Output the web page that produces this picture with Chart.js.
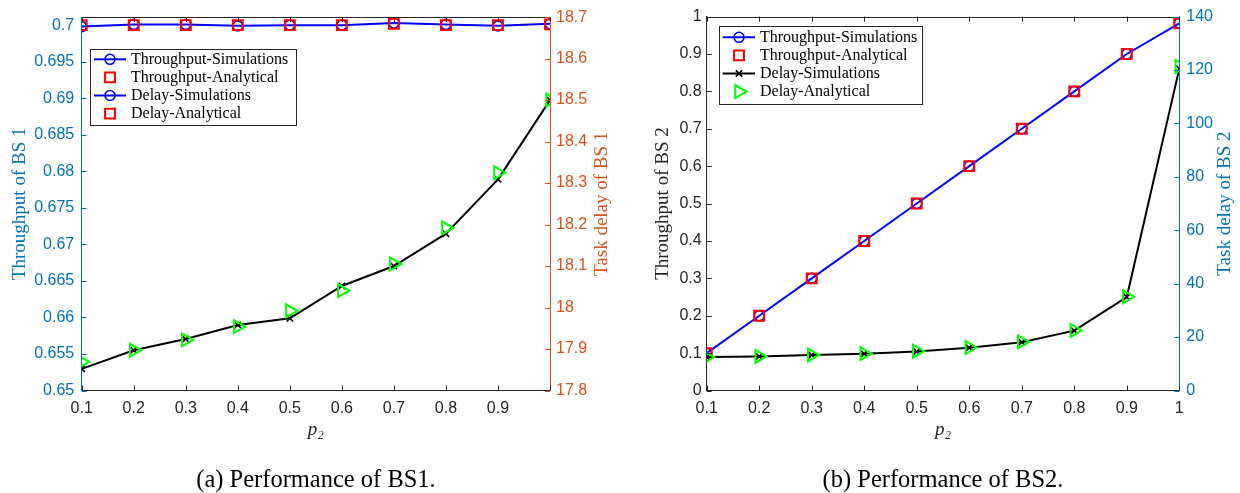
<!DOCTYPE html>
<html><head><meta charset="utf-8">
<script src="https://cdn.jsdelivr.net/npm/chart.js@4.4.1/dist/chart.umd.min.js"></script>
<style>
html,body{margin:0;padding:0;background:#fff;overflow:hidden;width:1240px;height:493px;}
canvas{position:absolute;top:0;}
#c1{left:0;} #c2{left:646px;}
</style></head><body>
<canvas id="c1" width="632" height="493"></canvas>
<canvas id="c2" width="594" height="493"></canvas>
<script>
// ---------- data ----------
const p2 = [0.1, 0.2, 0.3, 0.4, 0.5, 0.6, 0.7, 0.8, 0.9, 1.0];
const xTicks = [0.1, 0.2, 0.3, 0.4, 0.5, 0.6, 0.7, 0.8, 0.9, 1.0];
const xLabels1 = ['0.1','0.2','0.3','0.4','0.5','0.6','0.7','0.8','0.9',''];
const xLabels2 = ['0.1','0.2','0.3','0.4','0.5','0.6','0.7','0.8','0.9','1'];

// (a) BS1
const thrSim1   = [0.6998, 0.7001, 0.7001, 0.6999, 0.7000, 0.7000, 0.7003, 0.7001, 0.6999, 0.7002];
const thrAna1   = [0.7000, 0.7000, 0.7000, 0.7000, 0.7000, 0.7000, 0.7002, 0.7000, 0.7000, 0.7001];
const delaySim1 = [17.852, 17.897, 17.924, 17.958, 17.974, 18.052, 18.100, 18.178, 18.309, 18.500];
const delayAna1 = [17.869, 17.897, 17.922, 17.954, 17.992, 18.041, 18.105, 18.192, 18.325, 18.500];
const yTicks1L  = [0.65, 0.655, 0.66, 0.665, 0.67, 0.675, 0.68, 0.685, 0.69, 0.695, 0.7];
const yLabels1L = ['0.65','0.655','0.66','0.665','0.67','0.675','0.68','0.685','0.69','0.695','0.7'];
const yTicks1R  = [17.8, 17.9, 18.0, 18.1, 18.2, 18.3, 18.4, 18.5, 18.6, 18.7];
const yLabels1R = ['17.8','17.9','18','18.1','18.2','18.3','18.4','18.5','18.6','18.7'];

// (b) BS2
const thrSim2   = [0.1, 0.2, 0.3, 0.4, 0.5, 0.6, 0.7, 0.8, 0.9, 0.982];
const thrAna2   = [0.1, 0.2, 0.3, 0.4, 0.5, 0.6, 0.7, 0.8, 0.9, 0.982];
const delaySim2 = [12.5, 12.75, 13.25, 13.75, 14.6, 16.0, 18.1, 22.4, 35.0, 120.5];
const delayAna2 = [12.5, 12.75, 13.3, 13.8, 14.7, 16.1, 18.2, 22.5, 35.1, 121.3];
const yTicks2L  = [0, 0.1, 0.2, 0.3, 0.4, 0.5, 0.6, 0.7, 0.8, 0.9, 1];
const yLabels2L = ['0','0.1','0.2','0.3','0.4','0.5','0.6','0.7','0.8','0.9','1'];
const yTicks2R  = [0, 20, 40, 60, 80, 100, 120, 140];
const yLabels2R = ['0','20','40','60','80','100','120','140'];

const legendNames = ['Throughput-Simulations','Throughput-Analytical','Delay-Simulations','Delay-Analytical'];
const xTitle = 'p\u2082';
const captions = ['(a) Performance of BS1.', '(b) Performance of BS2.'];

// ---------- styling ----------
const BLUE_AX = '#0072BD', ORANGE_AX = '#D95319', DARK = '#262626';
const SERIF = "'Liberation Serif', 'Times New Roman', serif";
const SANS = "'Liberation Sans', Arial, Helvetica, sans-serif";
const TICK_SIZE = 16;

function pts(arr){ return p2.map((x, i) => ({x: x, y: arr[i]})); }

function makeDatasets(ts, ta, ds, da){
  return [
    {label: legendNames[0], data: pts(ts), yAxisID: 'y', borderColor: '#0000FF', borderWidth: 2,
     pointStyle: 'circle', pointRadius: 5, pointBorderWidth: 1.6, pointBorderColor: '#0000FF',
     pointBackgroundColor: 'rgba(0,0,0,0)', order: 4, tension: 0},
    {label: legendNames[1], data: pts(ta), yAxisID: 'y', showLine: false, borderColor: '#FF0000',
     pointStyle: 'rect', pointRadius: 7, pointBorderWidth: 2, pointBorderColor: '#FF0000',
     pointBackgroundColor: 'rgba(0,0,0,0)', order: 3},
    {label: legendNames[2], data: pts(ds), yAxisID: 'y1', borderColor: '#000000', borderWidth: 2,
     pointStyle: 'crossRot', pointRadius: 4.5, pointBorderWidth: 1.6, pointBorderColor: '#000000',
     pointBackgroundColor: 'rgba(0,0,0,0)', order: 2, tension: 0},
    {label: legendNames[3], data: pts(da), yAxisID: 'y1', showLine: false, borderColor: '#00FF00',
     pointStyle: 'triangle', pointRotation: 90, pointRadius: 7.5, pointBorderWidth: 2, pointBorderColor: '#00FF00',
     pointBackgroundColor: 'rgba(0,0,0,0)', order: 1}
  ];
}

// inner ticks + top frame + right axis title (reads upward like MATLAB)
const framePlugin = {
  id: 'frameTicks',
  afterDraw(chart, args, o){
    const ctx = chart.ctx, a = chart.chartArea, s = chart.scales, L = o.tickLen;
    const al = v => Math.round(v) + 0.5;
    ctx.save();
    ctx.lineWidth = 1;
    ctx.strokeStyle = o.frameColor;
    ctx.beginPath(); ctx.moveTo(a.left, al(a.top)); ctx.lineTo(a.right, al(a.top)); ctx.stroke();
    ctx.strokeStyle = s.x.options.border.color;
    ctx.beginPath();
    s.x.ticks.forEach(t => {
      const px = al(s.x.getPixelForValue(t.value));
      ctx.moveTo(px, a.bottom); ctx.lineTo(px, a.bottom - L);
    });
    ctx.stroke();
    ctx.strokeStyle = o.frameColor;
    ctx.beginPath();
    s.x.ticks.forEach(t => {
      const px = al(s.x.getPixelForValue(t.value));
      ctx.moveTo(px, a.top); ctx.lineTo(px, a.top + L);
    });
    ctx.stroke();
    ctx.strokeStyle = s.y.options.border.color;
    ctx.beginPath();
    s.y.ticks.forEach(t => {
      const py = al(s.y.getPixelForValue(t.value));
      ctx.moveTo(a.left, py); ctx.lineTo(a.left + L, py);
    });
    ctx.stroke();
    ctx.strokeStyle = s.y1.options.border.color;
    ctx.beginPath();
    s.y1.ticks.forEach(t => {
      const py = al(s.y1.getPixelForValue(t.value));
      ctx.moveTo(a.right, py); ctx.lineTo(a.right - L, py);
    });
    ctx.stroke();
    // right axis title
    const tt = s.y1.options.title;
    ctx.translate(o.rightTitleX, (a.top + a.bottom) / 2);
    ctx.rotate(-Math.PI / 2);
    ctx.fillStyle = tt.color;
    ctx.font = tt.font.size + 'px ' + SERIF;
    ctx.textAlign = 'center'; ctx.textBaseline = 'middle';
    ctx.fillText(tt.text, 0, 0);
    ctx.restore();
  }
};

function drawMarker(ctx, style, r, rot, x, y){
  if (Chart.helpers && Chart.helpers.drawPoint) {
    Chart.helpers.drawPoint(ctx, {pointStyle: style, radius: r, rotation: rot, borderWidth: ctx.lineWidth}, x, y);
    return;
  }
  ctx.beginPath();
  if (style === 'circle') ctx.arc(x, y, r, 0, Math.PI * 2);
  else if (style === 'rect') { const h = r * Math.SQRT1_2; ctx.rect(x - h, y - h, 2 * h, 2 * h); }
  else if (style === 'triangle') {
    let rad = rot * Math.PI / 180;
    ctx.moveTo(x + Math.sin(rad) * r, y - Math.cos(rad) * r);
    rad += 2 * Math.PI / 3; ctx.lineTo(x + Math.sin(rad) * r, y - Math.cos(rad) * r);
    rad += 2 * Math.PI / 3; ctx.lineTo(x + Math.sin(rad) * r, y - Math.cos(rad) * r);
    ctx.closePath();
  } else if (style === 'crossRot') {
    const d = r * Math.SQRT1_2;
    ctx.moveTo(x - d, y - d); ctx.lineTo(x + d, y + d);
    ctx.moveTo(x - d, y + d); ctx.lineTo(x + d, y - d);
  }
  ctx.stroke();
}

const legendPlugin = {
  id: 'boxLegend',
  afterDraw(chart, args, o){
    const ctx = chart.ctx, dss = chart.data.datasets;
    ctx.save();
    ctx.fillStyle = '#ffffff';
    ctx.fillRect(o.x, o.y, o.w, o.h);
    ctx.strokeStyle = DARK; ctx.lineWidth = 1;
    ctx.strokeRect(Math.round(o.x) + 0.5, Math.round(o.y) + 0.5, Math.round(o.w), Math.round(o.h));
    dss.forEach((ds, i) => {
      const st = dss[o.styleFrom[i]];
      const y = o.rowY0 + i * o.rowH;
      if (st.showLine !== false) {
        ctx.strokeStyle = st.borderColor; ctx.lineWidth = st.borderWidth;
        ctx.beginPath(); ctx.moveTo(o.lineX0, y); ctx.lineTo(o.lineX1, y); ctx.stroke();
      }
      ctx.strokeStyle = st.pointBorderColor; ctx.fillStyle = 'rgba(0,0,0,0)';
      ctx.lineWidth = st.pointBorderWidth;
      drawMarker(ctx, st.pointStyle, st.pointRadius, st.pointRotation || 0, o.markerX, y);
      ctx.fillStyle = '#000000';
      ctx.font = o.fontSize + 'px ' + SERIF;
      ctx.textAlign = 'left'; ctx.textBaseline = 'middle';
      ctx.fillText(ds.label, o.textX, y);
    });
    ctx.restore();
  }
};

function fixedTicks(vals){ return scale => { scale.ticks = vals.map(v => ({value: v})); }; }

function makeChart(id, cfg){
  return new Chart(document.getElementById(id), {
    type: 'line',
    data: {datasets: makeDatasets(cfg.ts, cfg.ta, cfg.ds, cfg.da)},
    plugins: [framePlugin, legendPlugin],
    options: {
      responsive: false, animation: false, events: [],
      layout: {padding: {top: 16, left: 0, right: 0, bottom: 0}},
      plugins: {
        legend: {display: false}, tooltip: {enabled: false},
        title: {display: true, position: 'bottom', text: cfg.caption, color: '#000000',
                font: {family: SERIF, size: 24.5, weight: 'normal', lineHeight: 1},
                padding: {top: 18, bottom: 0}},
        frameTicks: {tickLen: 5, frameColor: DARK, rightTitleX: cfg.rightTitleX},
        boxLegend: cfg.legend
      },
      scales: {
        x: {type: 'linear', position: 'bottom', min: 0.1, max: 1.0,
            afterBuildTicks: fixedTicks(xTicks),
            afterFit: s => { s.height = 60; },
            grid: {display: false, drawTicks: false},
            border: {display: true, color: DARK, width: 1},
            ticks: {color: DARK, padding: 8, maxRotation: 0, autoSkip: false,
                    font: {family: SANS, size: TICK_SIZE},
                    callback: (v, i) => cfg.xLabels[i]},
            title: {display: true, text: xTitle, color: DARK,
                    font: {family: SERIF, size: 19, style: 'italic', lineHeight: 1.2},
                    padding: {top: 0, bottom: 9}}},
        y: {type: 'linear', position: 'left', min: cfg.yMin, max: cfg.yMax,
            afterBuildTicks: fixedTicks(cfg.yTicksL),
            afterFit: s => { s.width = cfg.leftW; },
            grid: {display: false, drawTicks: false},
            border: {display: true, color: cfg.leftColor, width: 1},
            ticks: {color: cfg.leftColor, padding: cfg.leftPad, autoSkip: false,
                    font: {family: SANS, size: TICK_SIZE},
                    callback: (v, i) => cfg.yLabelsL[i]},
            title: {display: true, text: cfg.leftTitle, color: cfg.leftColor,
                    font: {family: SERIF, size: 19, lineHeight: 1.2},
                    padding: {top: cfg.leftTitlePad, bottom: 0}}},
        y1: {type: 'linear', position: 'right', min: cfg.y1Min, max: cfg.y1Max,
             afterBuildTicks: fixedTicks(cfg.yTicksR),
             afterFit: s => { s.width = cfg.rightW; },
             grid: {display: false, drawTicks: false},
             border: {display: true, color: cfg.rightColor, width: 1},
             ticks: {color: cfg.rightColor, padding: cfg.rightPad, autoSkip: false,
                     font: {family: SANS, size: TICK_SIZE},
                     callback: (v, i) => cfg.yLabelsR[i]},
             title: {display: false, text: cfg.rightTitle, color: cfg.rightColor,
                     font: {family: SERIF, size: 19}}}
      }
    }
  });
}

makeChart('c1', {
  ts: thrSim1, ta: thrAna1, ds: delaySim1, da: delayAna1,
  caption: captions[0], xLabels: xLabels1,
  yMin: 0.65, yMax: 0.7011, y1Min: 17.8, y1Max: 18.7,
  yTicksL: yTicks1L, yLabelsL: yLabels1L, yTicksR: yTicks1R, yLabelsR: yLabels1R,
  leftW: 81.7, rightW: 82, leftPad: 7.5, rightPad: 6,
  leftColor: BLUE_AX, rightColor: ORANGE_AX,
  leftTitle: 'Throughput of BS 1', leftTitlePad: 8.6,
  rightTitle: 'Task delay of BS 1', rightTitleX: 602,
  legend: {x: 89.5, y: 49.3, w: 205.5, h: 76, rowY0: 59.3, rowH: 18.1,
           lineX0: 94, lineX1: 126, markerX: 110, textX: 131, fontSize: 16,
           styleFrom: [0, 1, 0, 1]}
});

makeChart('c2', {
  ts: thrSim2, ta: thrAna2, ds: delaySim2, da: delayAna2,
  caption: captions[1], xLabels: xLabels2,
  yMin: 0, yMax: 1, y1Min: 0, y1Max: 140,
  yTicksL: yTicks2L, yLabelsL: yLabels2L, yTicksR: yTicks2R, yLabelsR: yLabels2R,
  leftW: 60.7, rightW: 60.7, leftPad: 5, rightPad: 7,
  leftColor: DARK, rightColor: BLUE_AX,
  leftTitle: 'Throughput of BS 2', leftTitlePad: 5.6,
  rightTitle: 'Task delay of BS 2', rightTitleX: 579,
  legend: {x: 72.8, y: 26, w: 203.2, h: 78, rowY0: 37.3, rowH: 18.1,
           lineX0: 76.7, lineX1: 109, markerX: 93, textX: 114, fontSize: 16,
           styleFrom: [0, 1, 2, 3]}
});
</script>
</body></html>
